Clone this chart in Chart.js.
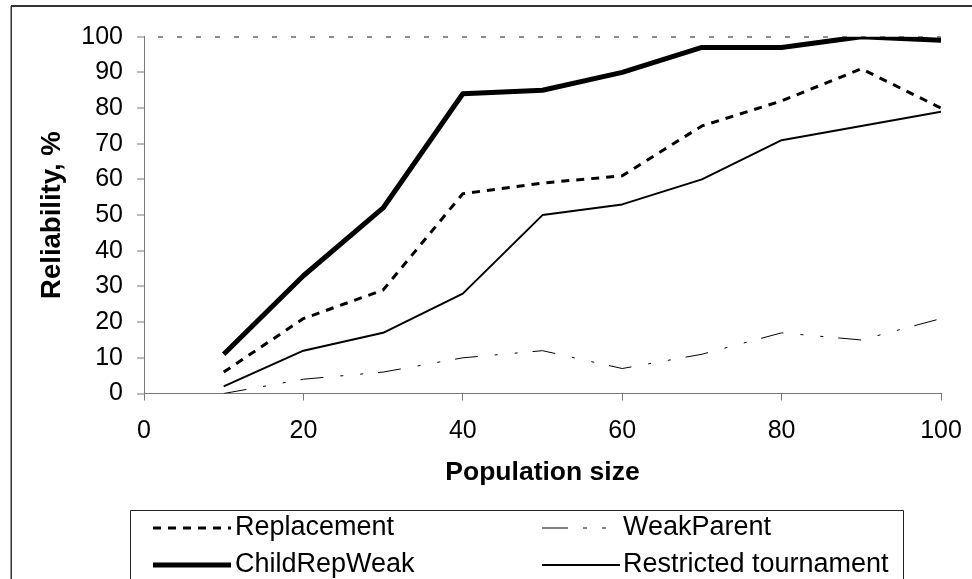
<!DOCTYPE html>
<html>
<head>
<meta charset="utf-8">
<script src="https://cdn.jsdelivr.net/npm/chart.js@4.4.1/dist/chart.umd.min.js"></script>
<style>
  html, body { margin: 0; padding: 0; background: #fff; }
  #wrap { width: 972px; height: 579px; position: relative; }
</style>
</head>
<body>
<div id="wrap"><canvas id="chart" width="972" height="579"></canvas></div>
<script>
// Population sizes on the x axis
const populationSizes = [10, 20, 30, 40, 50, 60, 70, 80, 90, 100];

// Reliability (%) of each replacement strategy
const replacement          = [6, 21, 29, 56, 59, 61, 75, 82, 91, 80];
const weakParent           = [0, 4, 6, 10, 12, 7, 11, 17, 15, 21];
const childRepWeak         = [11, 33, 52, 84, 85, 90, 97, 97, 100, 99];
const restrictedTournament = [2, 12, 17, 28, 50, 53, 60, 71, 75, 79];

const seriesLabels = ['Replacement', 'WeakParent', 'ChildRepWeak', 'Restricted tournament'];

const xTicks = [0, 20, 40, 60, 80, 100];
const yTicks = [0, 10, 20, 30, 40, 50, 60, 70, 80, 90, 100];

const toPoints = (vals) => vals.map((v, i) => ({ x: populationSizes[i], y: v }));

const FONT = "'Liberation Sans', Arial, sans-serif";

// Outer frame of the chart object
const framePlugin = {
  id: 'frame',
  beforeDraw(chart) {
    const ctx = chart.ctx;
    ctx.save();
    ctx.fillStyle = '#fff';
    ctx.fillRect(0, 0, chart.width, chart.height);
    ctx.strokeStyle = '#333';
    ctx.lineWidth = 2;
    ctx.beginPath();
    ctx.moveTo(11, 6);
    ctx.lineTo(chart.width, 6);
    ctx.stroke();
    ctx.lineWidth = 1.5;
    ctx.beginPath();
    ctx.moveTo(11.25, 6);
    ctx.lineTo(11.25, chart.height);
    ctx.stroke();
    ctx.restore();
  }
};

// Boxed two-column legend under the plot
const boxLegendPlugin = {
  id: 'boxLegend',
  afterDraw(chart) {
    const ctx = chart.ctx;
    const box = { left: 130.5, top: 510.5, right: 903.5 };
    ctx.save();
    ctx.strokeStyle = '#222';
    ctx.lineWidth = 1;
    ctx.beginPath();
    ctx.moveTo(box.left, chart.height + 5);
    ctx.lineTo(box.left, box.top);
    ctx.lineTo(box.right, box.top);
    ctx.lineTo(box.right, chart.height + 5);
    ctx.stroke();

    const cols = [{ x0: 153, x1: 231, tx: 235 }, { x0: 542, x1: 620, tx: 623 }];
    const rows = [528, 565];
    chart.data.datasets.forEach((ds, i) => {
      const c = cols[i % 2];
      const y = rows[Math.floor(i / 2)];
      ctx.strokeStyle = ds.borderColor;
      ctx.lineWidth = ds.borderWidth;
      ctx.setLineDash(ds.legendDash || ds.borderDash || []);
      ctx.lineCap = 'butt';
      ctx.beginPath();
      ctx.moveTo(c.x0, y);
      ctx.lineTo(c.x1, y);
      ctx.stroke();
      ctx.setLineDash([]);
      ctx.fillStyle = '#000';
      ctx.font = `27px ${FONT}`;
      ctx.textBaseline = 'middle';
      ctx.textAlign = 'left';
      ctx.fillText(ds.label, c.tx, y);
    });
    ctx.restore();
  }
};

new Chart(document.getElementById('chart'), {
  type: 'line',
  data: {
    datasets: [
      {
        label: seriesLabels[0],
        data: toPoints(replacement),
        borderColor: '#000',
        borderWidth: 3,
        borderDash: [8, 7],
        legendDash: [8, 7]
      },
      {
        label: seriesLabels[1],
        data: toPoints(weakParent),
        borderColor: '#000',
        borderWidth: 1,
        borderDash: [23, 17, 3, 17, 3, 15],
        legendDash: [26, 15, 4, 15, 4, 15]
      },
      {
        label: seriesLabels[2],
        data: toPoints(childRepWeak),
        borderColor: '#000',
        borderWidth: 5,
        borderDash: []
      },
      {
        label: seriesLabels[3],
        data: toPoints(restrictedTournament),
        borderColor: '#000',
        borderWidth: 2,
        borderDash: []
      }
    ]
  },
  options: {
    responsive: false,
    animation: false,
    devicePixelRatio: 1,
    layout: { padding: { left: 20, right: 31, top: 36.7, bottom: 85.5 } },
    elements: {
      point: { radius: 0, hoverRadius: 0 },
      line: { tension: 0, fill: false, borderCapStyle: 'butt', borderJoinStyle: 'round' }
    },
    plugins: {
      legend: { display: false },
      tooltip: { enabled: false }
    },
    scales: {
      x: {
        type: 'linear',
        min: 0,
        max: 100,
        afterBuildTicks(scale) { scale.ticks = xTicks.map(v => ({ value: v })); },
        afterFit(scale) {
          scale.height = 100;
          scale.paddingLeft = 0;
          scale.paddingRight = 0;
        },
        border: { display: true, color: '#777', width: 1 },
        grid: { drawOnChartArea: false, drawTicks: true, tickLength: 7, tickColor: '#777', tickWidth: 1 },
        ticks: {
          color: '#000',
          font: { family: FONT, size: 25 },
          padding: 16,
          maxRotation: 0
        },
        title: {
          display: true,
          text: 'Population size',
          color: '#000',
          font: { family: FONT, size: 26.5, weight: 'bold' },
          padding: { top: 0, bottom: 4.6 }
        }
      },
      y: {
        type: 'linear',
        min: 0,
        max: 100,
        afterBuildTicks(scale) { scale.ticks = yTicks.map(v => ({ value: v })); },
        afterFit(scale) {
          scale.width = 124;
          scale.paddingTop = 0;
          scale.paddingBottom = 0;
        },
        // dash pattern of the grid line drawn at 100 %
        border: { display: true, color: '#777', width: 1, dash: [5, 14], dashOffset: 6 },
        grid: {
          drawOnChartArea: true,
          drawTicks: true,
          tickLength: 7,
          tickColor: '#777',
          tickWidth: 1,
          tickBorderDash: [],
          lineWidth: 2,
          color: (ctx) => (ctx.tick && ctx.tick.value === 100 ? '#8c8c8c' : 'rgba(0,0,0,0)')
        },
        ticks: {
          color: '#000',
          font: { family: FONT, size: 25 },
          padding: 14
        },
        title: {
          display: true,
          text: 'Reliability, %',
          color: '#000',
          font: { family: FONT, size: 27.5, weight: 'bold' },
          padding: { top: 15.5, bottom: 0 }
        }
      }
    }
  },
  plugins: [framePlugin, boxLegendPlugin]
});
</script>
</body>
</html>
